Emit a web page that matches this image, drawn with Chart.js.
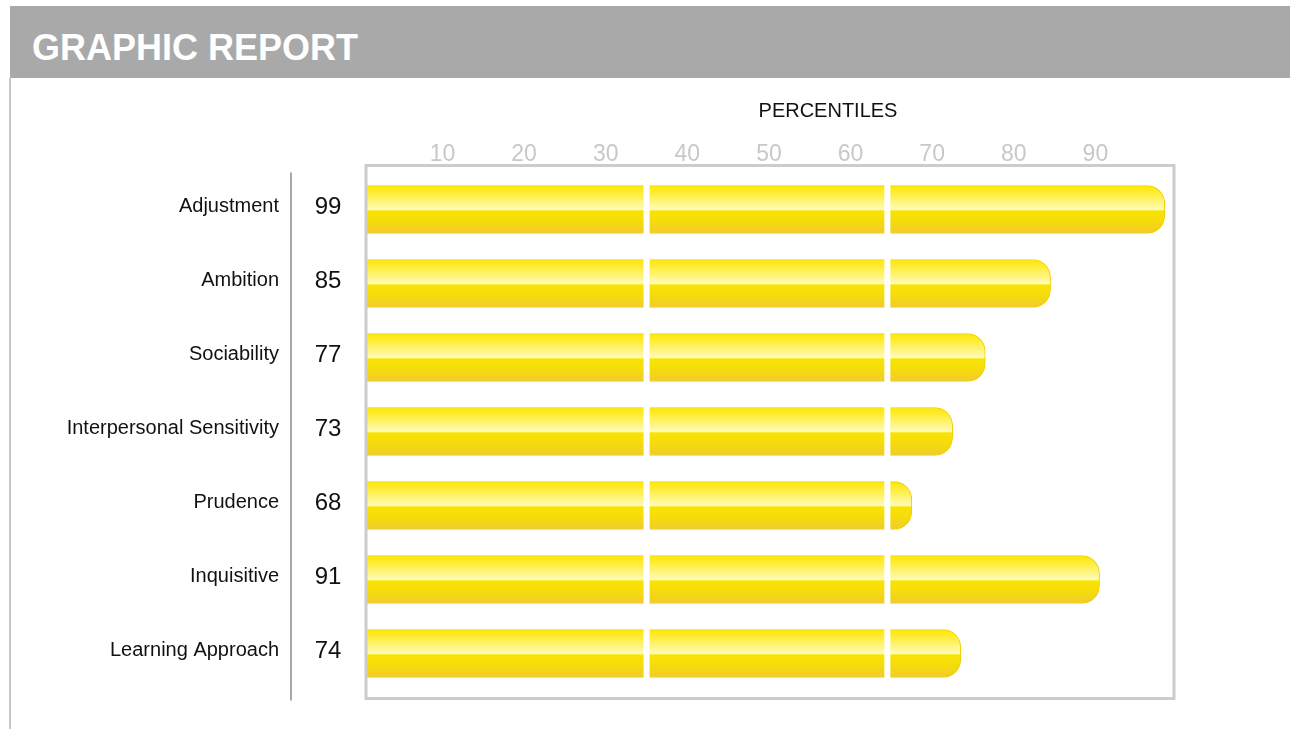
<!DOCTYPE html>
<html>
<head>
<meta charset="utf-8">
<script src="https://cdn.jsdelivr.net/npm/chart.js@4.4.1/dist/chart.umd.min.js"></script>
<style>
  html, body { margin: 0; padding: 0; background: #ffffff; }
  body { width: 1290px; height: 729px; position: relative; overflow: hidden; font-family: 'Liberation Sans', Arial, sans-serif; }
  #header { position: absolute; left: 10px; top: 6px; width: 1280px; height: 72px; background: #a9a9a9; z-index: 2; }
  #header span { position: absolute; left: 22px; top: 0; line-height: 83px; color: #ffffff; font-weight: bold; font-size: 36px; }
  #frame { position: absolute; left: 9px; top: 78px; width: 1281px; height: 660px; border-left: 2px solid #c6c6c6; z-index: 1; }
  #wrap { position: absolute; left: 0; top: 0; width: 1290px; height: 729px; z-index: 0; }
</style>
</head>
<body>
<div id="header"><span>GRAPHIC REPORT</span></div>
<div id="frame"></div>
<div id="wrap"><canvas id="c"></canvas></div>
<script>
const categories = ['Adjustment', 'Ambition', 'Sociability', 'Interpersonal Sensitivity', 'Prudence', 'Inquisitive', 'Learning Approach'];
const percentiles = [99, 85, 77, 73, 68, 91, 74];
const tickLabels = [10, 20, 30, 40, 50, 60, 70, 80, 90];
const bandBreaks = [35.5, 65];
const axisTitle = 'PERCENTILES';

const FONT = "'Liberation Sans', Arial, sans-serif";
Chart.defaults.font.family = FONT;

function barFill(ctx) {
  const c = ctx.chart;
  if (!c.chartArea || !c.scales.y || ctx.type !== 'data') return '#f7e200';
  const yc = c.scales.y.getPixelForValue(ctx.dataIndex);
  const h = 48;
  const g = c.ctx.createLinearGradient(0, yc - h / 2, 0, yc + h / 2);
  g.addColorStop(0, '#fde600');
  g.addColorStop(0.08, '#feea1c');
  g.addColorStop(0.42, '#fff799');
  g.addColorStop(0.50, '#fffbbc');
  g.addColorStop(0.53, '#f9e404');
  g.addColorStop(0.75, '#f5db0c');
  g.addColorStop(1, '#f0cb2c');
  return g;
}

const decorations = {
  id: 'decorations',
  afterDatasetsDraw(chart) {
    const { ctx, chartArea: ca, scales } = chart;
    const x = scales.x, y = scales.y;
    ctx.save();
    ctx.fillStyle = '#ffffff';
    bandBreaks.forEach(v => {
      const px = x.getPixelForValue(v);
      ctx.fillRect(px - 3, ca.top, 6, ca.bottom - ca.top);
    });
    ctx.strokeStyle = '#cccccc';
    ctx.lineWidth = 3;
    ctx.strokeRect(ca.left + 1, ca.top - 7, ca.right - ca.left, ca.bottom - ca.top + 15);
    ctx.strokeStyle = '#a8a8a8';
    ctx.lineWidth = 2;
    ctx.beginPath();
    ctx.moveTo(ca.left - 74, ca.top);
    ctx.lineTo(ca.left - 74, ca.bottom + 10);
    ctx.stroke();
    ctx.fillStyle = '#111111';
    ctx.font = '24px ' + FONT;
    ctx.textAlign = 'center';
    ctx.textBaseline = 'middle';
    percentiles.forEach((v, i) => {
      ctx.fillText(String(v), ca.left - 37, y.getPixelForValue(i) - 2);
    });
    ctx.font = '20px ' + FONT;
    ctx.fillStyle = '#111111';
    ctx.fillText(axisTitle, 828, 111);
    ctx.restore();
  }
};

new Chart(document.getElementById('c'), {
  type: 'bar',
  data: {
    labels: categories,
    datasets: [{
      data: percentiles,
      backgroundColor: barFill,
      borderColor: '#efcf00',
      borderWidth: 1,
      borderSkipped: 'start',
      borderRadius: { topRight: 18, bottomRight: 18, topLeft: 0, bottomLeft: 0 },
      barThickness: 48
    }]
  },
  options: {
    indexAxis: 'y',
    responsive: true,
    maintainAspectRatio: false,
    animation: false,
    layout: { padding: { left: 0, right: 117, top: 112.5, bottom: 38.5 } },
    plugins: { legend: { display: false }, tooltip: { enabled: false } },
    scales: {
      x: {
        position: 'top',
        min: 1,
        max: 100,
        afterBuildTicks: s => { s.ticks = tickLabels.map(v => ({ value: v })); },
        afterFit: s => { s.height = 60; s.paddingLeft = 0; s.paddingRight = 0; },
        grid: { display: false, drawTicks: false },
        border: { display: false },
        ticks: { color: '#c8c8c8', font: { size: 23 }, padding: 4, labelOffset: 4, maxRotation: 0, autoSkip: false }
      },
      y: {
        afterFit: s => { s.width = 365; s.paddingTop = 0; s.paddingBottom = 0; },
        grid: { display: false, drawTicks: false },
        border: { display: false },
        ticks: { color: '#111111', font: { size: 20 }, padding: 86, labelOffset: -3, autoSkip: false }
      }
    }
  },
  plugins: [decorations]
});
</script>
</body>
</html>
